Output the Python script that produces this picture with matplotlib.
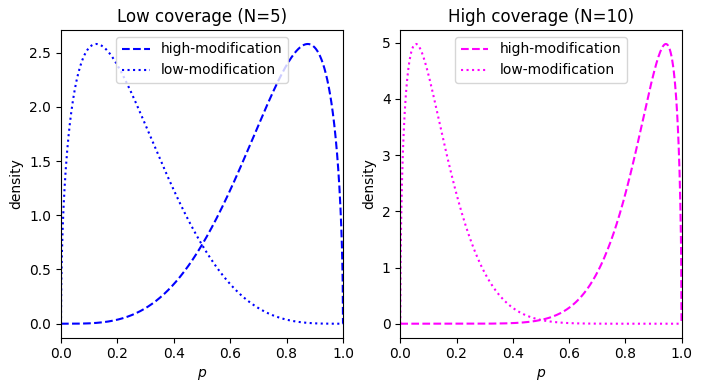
import math
import numpy as np
import matplotlib
matplotlib.use("Agg")
import matplotlib.pyplot as plt

# Beta-distribution parameters (peak position and height)
titles = ["Low coverage (N=5)", "High coverage (N=10)"]
colors = ["blue", "magenta"]
high_alpha = [4.5, 9.5]
high_beta = [1.5, 1.5]
low_alpha = [1.5, 1.5]
low_beta = [4.5, 9.5]
labels = ["high-modification", "low-modification"]


def beta_pdf(x, a, b):
    lnB = math.lgamma(a) + math.lgamma(b) - math.lgamma(a + b)
    return np.exp((a - 1) * np.log(np.clip(x, 1e-300, None)) +
                  (b - 1) * np.log(np.clip(1 - x, 1e-300, None)) - lnB) * ((x > 0) & (x < 1))


p = np.linspace(0, 1, 1000)

fig = plt.figure(figsize=(7.02, 3.92), dpi=100)
positions = [
    [61 / 702, 1 - 337.7 / 392, (343 - 61) / 702, (337.7 - 30) / 392],
    [400.3 / 702, 1 - 337.7 / 392, (681.5 - 400.3) / 702, (337.7 - 30) / 392],
]
for i in range(2):
    ax = fig.add_axes(positions[i])
    ax.plot(p, beta_pdf(p, high_alpha[i], high_beta[i]), "--", color=colors[i], label=labels[0])
    ax.plot(p, beta_pdf(p, low_alpha[i], low_beta[i]), ":", color=colors[i], label=labels[1])
    ax.set_xlim(0, 1)
    ax.set_title(titles[i])
    ax.set_xlabel("$p$")
    ax.set_ylabel("density")
    ax.legend(loc="upper center")

fig.savefig("out.png", dpi=100)
